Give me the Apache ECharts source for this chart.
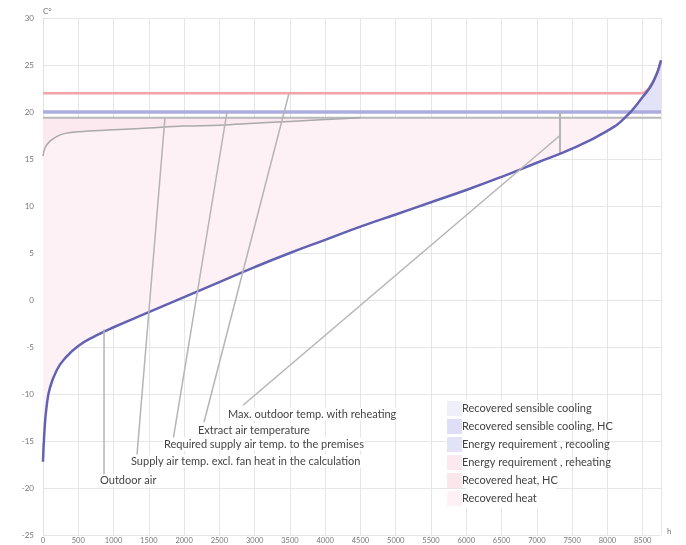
<!DOCTYPE html>
<html>
<head>
<meta charset="utf-8">
<script src="https://cdn.jsdelivr.net/npm/echarts@6/dist/echarts.min.js"></script>
<style>
  html, body { margin: 0; padding: 0; background: #fff; }
  #chart { width: 686px; height: 545px; }
</style>
</head>
<body>
<div id="chart"></div>
<script>
// Hours of the year, sorted outdoor temperature duration curve
const hours = [0, 20, 50, 100, 200, 300, 500, 750, 1000, 1500, 2000, 2500, 3000, 3500, 4000, 4500, 5000, 5500, 6000, 6500, 7000, 7500, 8000, 8250, 8500, 8650, 8760];
const outdoorTemp = [-17.2, -14.0, -11.4, -9.3, -7.4, -6.3, -4.9, -3.8, -2.9, -1.3, 0.3, 1.9, 3.5, 5.0, 6.4, 7.8, 9.1, 10.4, 11.7, 13.1, 14.6, 16.1, 18.0, 19.4, 21.6, 23.2, 25.5];

// Supply air temperature after heat recovery
const recoveryHours = [0, 30, 100, 200, 300, 500, 1000, 1500, 2000, 2500, 3000, 3500, 4000, 4500];
const recoveryTemp = [15.3, 16.2, 16.9, 17.4, 17.7, 17.9, 18.1, 18.3, 18.5, 18.6, 18.8, 19.0, 19.2, 19.4];

// Extract air temperature
const extractHours = [0, 8480, 8560, 8620, 8700, 8760];
const extractTemp = [22, 22, 22.3, 22.9, 24.0, 25.3];

const requiredSupplyTemp = 20;      // required supply air temp. to the premises
const supplyExclFanTemp = 19.4;     // supply air temp. excl. fan heat
const maxReheatHour = 7328;         // max. outdoor temp. with reheating
const yearHours = 8760;

// Annotation leaders: [hour, temp] at the curve and at the text
const leaderLabels = [
  'Outdoor air',
  'Supply air temp. excl. fan heat in the calculation',
  'Required supply air temp. to the premises',
  'Extract air temperature',
  'Max. outdoor temp. with reheating'
];
const leaderTop = [[865, -3.1], [1729, 19.4], [2608, 20], [3487, 22], [7328, 17.5]];
const leaderBottom = [[865, -18.6], [1332, -16.5], [1843, -14.9], [2282, -13.0], [2835, -11.2]];

const legendNames = [
  'Recovered sensible cooling',
  'Recovered sensible cooling, HC',
  'Energy requirement , recooling',
  'Energy requirement , reheating',
  'Recovered heat, HC',
  'Recovered heat'
];

const yTicks = { min: -25, max: 30, step: 5 };
const xTicks = { min: 0, max: yearHours, step: 500 };

// ---- helpers ----
function interp(hs, ts, h) {
  if (h <= hs[0]) return ts[0];
  for (let i = 1; i < hs.length; i++) {
    if (h <= hs[i]) {
      const f = (h - hs[i - 1]) / (hs[i] - hs[i - 1]);
      return ts[i - 1] + f * (ts[i] - ts[i - 1]);
    }
  }
  return ts[ts.length - 1];
}
function crossing(hs, ts, level) {
  for (let i = 1; i < hs.length; i++) {
    if (ts[i - 1] < level && ts[i] >= level) {
      return hs[i - 1] + (level - ts[i - 1]) / (ts[i] - ts[i - 1]) * (hs[i] - hs[i - 1]);
    }
  }
  return hs[hs.length - 1];
}
function pathPoints(hs, ts, h0, h1) {
  const pts = [[h0, interp(hs, ts, h0)]];
  for (let i = 0; i < hs.length; i++) if (hs[i] > h0 && hs[i] < h1) pts.push([hs[i], ts[i]]);
  pts.push([h1, interp(hs, ts, h1)]);
  return pts;
}
function pairs(hs, ts) { return hs.map((h, i) => [h, ts[i]]); }

// filled band between two temperature curves
function bandSeries(name, color, upper, lower) {
  return {
    type: 'custom',
    name: name,
    coordinateSystem: 'cartesian2d',
    data: [[0, 0]],
    itemStyle: { color: color },
    silent: true,
    clip: true,
    z: 1,
    renderItem: function (params, api) {
      const pts = upper.concat(lower.slice().reverse()).map(p => api.coord(p));
      return { type: 'polygon', shape: { points: pts }, style: { fill: color } };
    }
  };
}
function emptyLegendSeries(name, color) {
  return { type: 'custom', name: name, coordinateSystem: 'cartesian2d', data: [], itemStyle: { color: color }, renderItem: () => null };
}

const heatEnd = crossing(hours, outdoorTemp, supplyExclFanTemp);
const coolStart = crossing(hours, outdoorTemp, requiredSupplyTemp);
const recoveryEnd = recoveryHours[recoveryHours.length - 1];

const recoveredHeatUpper = pathPoints(recoveryHours.concat([heatEnd]), recoveryTemp.concat([supplyExclFanTemp]), 0, heatEnd);
const recoveredHeatLower = pathPoints(hours, outdoorTemp, 0, heatEnd);
const reheatUpper = [[0, supplyExclFanTemp], [recoveryEnd, supplyExclFanTemp]];
const reheatLower = pathPoints(recoveryHours, recoveryTemp, 0, recoveryEnd);
const recoolUpper = pathPoints(hours, outdoorTemp, coolStart, yearHours);
const recoolLower = [[coolStart, requiredSupplyTemp], [yearHours, requiredSupplyTemp]];

// text placement of each annotation relative to its lower leader end (px)
const leaderTextOffset = [[-5, 6], [-7, 6], [-10, 4], [-7, 8], [-16, 9]];

const textFont = 'Lato, "Noto Sans", sans-serif';

const leaderSeries = leaderLabels.map((label, i) => ({
  type: 'line',
  data: [
    { value: leaderTop[i] },
    {
      value: leaderBottom[i],
      label: {
        show: true,
        formatter: label,
        position: [leaderTextOffset[i][0] + 1, leaderTextOffset[i][1] + 1],
        align: 'left',
        verticalAlign: 'middle',
        fontFamily: textFont,
        fontSize: 11,
        color: '#444',
        backgroundColor: '#fff',
        padding: [1, 1, 1, 1]
      }
    }
  ],
  symbol: 'circle',
  symbolSize: 2,
  itemStyle: { color: 'rgba(0,0,0,0)' },
  lineStyle: { color: '#b5b5b5', width: 1.5 },
  silent: true,
  z: 6
}));

const chart = echarts.init(document.getElementById('chart'), null, { renderer: 'canvas' });

chart.setOption({
  animation: false,
  backgroundColor: '#fff',
  grid: { left: 43, right: 25, top: 18, bottom: 10, containLabel: false },
  xAxis: {
    type: 'value',
    min: xTicks.min, max: xTicks.max, interval: xTicks.step,
    name: 'h', nameLocation: 'end', nameGap: 6,
    nameTextStyle: { fontSize: 8, color: '#777', verticalAlign: 'bottom', fontFamily: textFont },
    axisLine: { show: false, onZero: false },
    axisTick: { show: false },
    axisLabel: { fontSize: 7.5, color: '#777', margin: 2, showMaxLabel: false, fontFamily: textFont, formatter: v => String(v) },
    splitLine: { show: true, lineStyle: { color: '#e6e6e6', width: 1 } }
  },
  yAxis: {
    type: 'value',
    min: yTicks.min, max: yTicks.max, interval: yTicks.step,
    name: 'C°', nameLocation: 'end', nameGap: 3,
    nameTextStyle: { fontSize: 8, color: '#777', align: 'left', fontFamily: textFont },
    axisLine: { show: true, lineStyle: { color: '#e0e0e0' } },
    axisTick: { show: false },
    axisLabel: { fontSize: 8, color: '#777', margin: 9, fontFamily: textFont },
    splitLine: { show: true, lineStyle: { color: '#e6e6e6', width: 1 } }
  },
  legend: {
    data: legendNames,
    orient: 'vertical',
    left: 447, top: 401,
    padding: 0,
    itemWidth: 15, itemHeight: 15, itemGap: 3,
    icon: 'rect',
    selectedMode: false,
    textStyle: { fontSize: 11, color: '#444', fontFamily: textFont, padding: [0, 0, 0, -5] },
    z: 8
  },
  graphic: [{
    type: 'rect', left: 466, top: 400, z: 7,
    shape: { width: 90, height: 108 },
    style: { fill: '#fff' }, silent: true
  }],
  series: [
    bandSeries('Recovered heat', '#fdf1f6', recoveredHeatUpper, recoveredHeatLower),
    bandSeries('Energy requirement , reheating', '#fbe9ef', reheatUpper, reheatLower),
    bandSeries('Energy requirement , recooling', '#e3e3f7', recoolUpper, recoolLower),
    emptyLegendSeries('Recovered sensible cooling', '#efeff9'),
    emptyLegendSeries('Recovered sensible cooling, HC', '#dedef6'),
    emptyLegendSeries('Recovered heat, HC', '#fbe6ec'),
    {
      // extract air temperature
      type: 'line', data: pairs(extractHours, extractTemp), smooth: 0.4,
      symbol: 'none', silent: true, z: 3,
      lineStyle: { color: '#f2a5a5', width: 2.5 }
    },
    {
      // required supply air temperature
      type: 'line', data: [[0, requiredSupplyTemp], [yearHours, requiredSupplyTemp]],
      symbol: 'none', silent: true, z: 3,
      lineStyle: { color: '#acacdf', width: 3.5 }
    },
    {
      // supply air temperature excl. fan heat
      type: 'line', data: [[0, supplyExclFanTemp], [yearHours, supplyExclFanTemp]],
      symbol: 'none', silent: true, z: 3,
      lineStyle: { color: '#b8b8b8', width: 2 }
    },
    {
      // temperature after heat recovery
      type: 'line', data: pairs(recoveryHours, recoveryTemp), smooth: 0.4,
      symbol: 'none', silent: true, z: 3,
      lineStyle: { color: '#a9a9a9', width: 1.5 }
    },
    {
      // max. outdoor temperature with reheating
      type: 'line', data: [[maxReheatHour, interp(hours, outdoorTemp, maxReheatHour)], [maxReheatHour, requiredSupplyTemp]],
      symbol: 'none', silent: true, z: 3,
      lineStyle: { color: '#b5b5b5', width: 2 }
    },
    {
      // outdoor air temperature
      type: 'line', data: pairs(hours, outdoorTemp), smooth: 0.5,
      symbol: 'none', silent: true, z: 4,
      lineStyle: { color: '#6262b2', width: 2.5 }
    }
  ].concat(leaderSeries)
});
</script>
</body>
</html>
